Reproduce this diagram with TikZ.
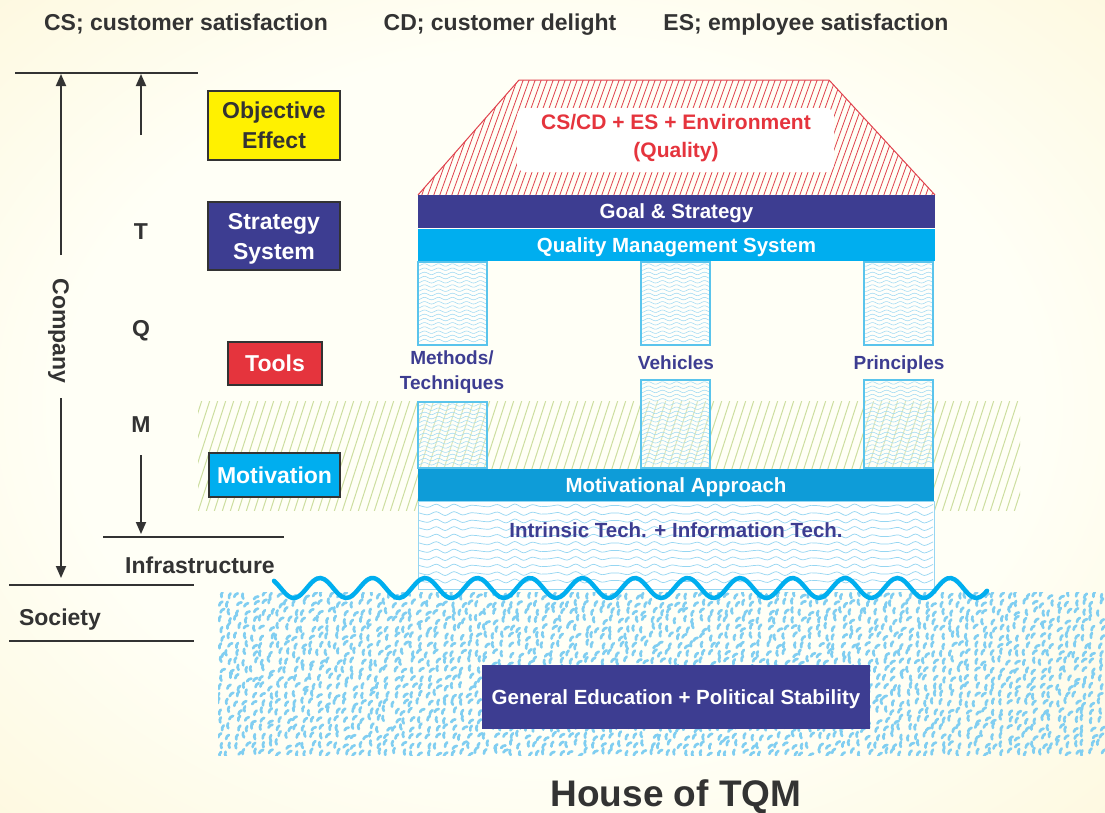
\documentclass[tikz,border=0pt]{standalone}
\usepackage{fontspec}
\setmainfont{Liberation Sans}
\usetikzlibrary{arrows.meta}
\definecolor{bgin}{RGB}{255,255,246}
\definecolor{bgout}{RGB}{252,243,205}
\definecolor{indigo}{RGB}{61,61,145}
\definecolor{cyanq}{RGB}{0,174,239}
\definecolor{cyanm}{RGB}{14,156,216}
\definecolor{yel}{RGB}{255,241,0}
\definecolor{redt}{RGB}{229,52,61}
\definecolor{roofred}{RGB}{224,66,77}
\definecolor{dark}{RGB}{51,51,51}
\definecolor{pillarb}{RGB}{90,196,236}
\definecolor{wavel}{RGB}{150,214,242}
\definecolor{wavep}{RGB}{160,218,243}
\definecolor{greenh}{RGB}{205,222,160}
\definecolor{dashc}{RGB}{128,206,241}
\pgfdeclareradialshading{bgsh}{\pgfpoint{0bp}{0bp}}{color(0bp)=(bgin); color(22bp)=(bgin); color(48bp)=(bgout); color(100bp)=(bgout)}
\newcommand\mywaves[8]{%
  \foreach \yy in {#3,#4,...,#5}{%
    \draw[#8] plot[domain=#1:#2,samples=60,smooth] (\x,{\yy+#7*sin(((\x-400)/#6)*360)});}}
\begin{document}
\begin{tikzpicture}[x=1pt,y=-1pt,
  lbl/.style={font=\fontsize{23}{30}\selectfont\bfseries,text=dark,inner sep=0pt,text height=16.5pt,text depth=0pt},
  lbox/.style={draw=dark,line width=2.2pt,inner sep=0pt,align=center,font=\fontsize{23}{30}\selectfont\bfseries},
  bar/.style={inner sep=0pt,minimum width=517pt,text=white,font=\fontsize{20.5}{24}\selectfont\bfseries,text height=14.7pt,text depth=0pt},
  plbl/.style={inner sep=0pt,align=center,text=indigo,font=\fontsize{19}{25}\selectfont\bfseries},
  pillar/.style={draw=pillarb,line width=1.2pt},
  arr/.style={draw=dark,line width=1.8pt,-{Triangle[length=12pt,width=10pt]}},
  hline/.style={draw=dark,line width=1.5pt}]
\useasboundingbox (0,0) rectangle (1105,812);
% background
\shade[shading=bgsh] (0,0) rectangle (1105,812);
% green hatch band
\begin{scope}
\clip (198,401) rectangle (1020,510);
\foreach \k in {150,158,...,1020}{\draw[greenh,line width=1pt] (\k,512) -- ++(36,-112);}
\end{scope}
% society dashes
\begin{scope}
\clip (218,592) rectangle (1105,755);
\pgfmathsetseed{11}
\foreach \i in {0,...,106}{
  \foreach \j in {0,...,19}{
    \pgfmathsetmacro\px{220+8.3*\i+2.4*rand}
    \pgfmathsetmacro\py{597+8.3*\j+2.4*rand}
    \pgfmathsetmacro\ang{65+35*rand}
    \pgfmathsetmacro\dx{5*cos(\ang)}
    \pgfmathsetmacro\dy{-5*sin(\ang)}
    \draw[dashc,line width=2.7pt,line cap=round] (\px,\py) to[bend left=30] ++(\dx,\dy);
  }}
\end{scope}
% roof
\begin{scope}
\clip (418,195) -- (519,80) -- (829,80) -- (935,195) -- cycle;
\foreach \k in {300,306,...,960}{\draw[roofred,line width=0.8pt] (\k,200) -- ++(45,-125);}
\end{scope}
\fill[white,rounded corners=8pt] (517,108) rectangle (834,172);
\draw[roofred,line width=1pt] (418,195) -- (519,80) -- (829,80) -- (935,195);
\node[inner sep=0pt,align=center,text=redt,font=\fontsize{21}{28}\selectfont\bfseries] (roof) at (676,138.5) {CS/CD + ES + Environment\\(Quality)};
% bars
\node[bar,fill=indigo,minimum height=33pt] (goal) at (676.5,211.5) {Goal \& Strategy};
\node[bar,fill=cyanq,minimum height=32pt] (qms) at (676.5,245) {Quality Management System};
% pillars
\foreach \xa in {418,641,864}{
  \fill[white,opacity=0.6] (\xa,262) rectangle ++(69,83);
  \mywaves{\xa+1}{\xa+68}{265}{269.2}{343}{14}{1.2}{draw=wavep,line width=0.55pt}
  \draw[pillar] (\xa,262) rectangle ++(69,83);
}
\fill[white,opacity=0.3] (418,402) rectangle (487,468);
\mywaves{419}{486}{405}{409.2}{466}{14}{1.2}{draw=wavep,line width=0.55pt}
\draw[pillar] (418,402) rectangle (487,468);
\foreach \xa in {641,864}{
  \fill[white,opacity=0.3] (\xa,380) rectangle ++(69,88);
  \mywaves{\xa+1}{\xa+68}{383}{387.2}{466}{14}{1.2}{draw=wavep,line width=0.55pt}
  \draw[pillar] (\xa,380) rectangle ++(69,88);
}
\node[plbl] (meth) at (452,372) {Methods/\\Techniques};
\node[plbl,text height=13.6pt,text depth=0pt] (veh) at (676,363) {Vehicles};
\node[plbl,text height=13.6pt,text depth=0pt] (prin) at (899,363) {Principles};
% intrinsic box
\fill[white] (418,501) rectangle (934,589);
\mywaves{419}{933}{506}{513.5}{586}{20}{2}{draw=wavel,line width=0.7pt}
\draw[draw=wavel,line width=1pt] (418,501) rectangle (934,589);
\node[bar,fill=cyanm,minimum width=516pt,minimum height=32pt] (mot) at (676,485) {Motivational Approach};
\node[inner sep=0pt,text=indigo,font=\fontsize{20.5}{24}\selectfont\bfseries,text height=14.7pt,text depth=0pt] (intr) at (676,530) {Intrinsic Tech. + Information Tech.};
% big wave
\draw[cyanq,line width=4.5pt,line cap=round] plot[domain=274:987,samples=200,smooth] (\x,{588-10*cos(((\x-320)/52.5)*360)});
% general education
\node[fill=indigo,minimum width=388pt,minimum height=64pt,inner sep=0pt,text=white,font=\fontsize{20.5}{24}\selectfont\bfseries,text height=14.7pt,text depth=0pt] (gen) at (676,697) {General Education + Political Stability};
\node[inner sep=0pt,text=dark,font=\fontsize{37}{40}\selectfont\bfseries,text height=26.5pt,text depth=0pt] (title) at (676,793) {House of TQM};
% top texts
\node[lbl] (cs) at (186,22) {CS; customer satisfaction};
\node[lbl] (cd) at (500,22) {CD; customer delight};
\node[lbl] (es) at (806,22) {ES; employee satisfaction};
% left boxes
\node[lbox,fill=yel,text=dark,minimum width=132pt,minimum height=69pt] (obj) at (274,125.5) {Objective\\Effect};
\node[lbox,fill=indigo,text=white,minimum width=132pt,minimum height=68pt,text depth=0pt] (str) at (274,236) {Strategy\\System};
\node[lbox,fill=redt,text=white,minimum width=94pt,minimum height=43pt] (tools) at (275,363.5) {Tools};
\node[lbox,fill=cyanq,text=white,minimum width=131pt,minimum height=44pt] (motv) at (274.5,475) {Motivation};
% left scale
\coordinate (tl1) at (15,73); \coordinate (tl2) at (198,73);
\draw[hline] (tl1) -- (tl2);
\coordinate (il1) at (103,537); \coordinate (il2) at (284,537);
\draw[hline] (il1) -- (il2);
\coordinate (sl1) at (9,585); \coordinate (sl2) at (194,585);
\draw[hline] (sl1) -- (sl2);
\coordinate (sl3) at (9,641); \coordinate (sl4) at (194,641);
\draw[hline] (sl3) -- (sl4);
\node[lbl,rotate=-90] (company) at (61,331) {Company};
\node[lbl] (T) at (141,231) {T};
\node[lbl] (Q) at (141,328) {Q};
\node[lbl] (M) at (141,424) {M};
\node[lbl] (infra) at (200,565) {Infrastructure};
\node[lbl] (soc) at (60,617) {Society};
\coordinate (cu1) at (61,255); \coordinate (cu2) at (61,74);
\draw[arr] (cu1) -- (cu2);
\coordinate (cd1) at (61,398); \coordinate (cd2) at (61,578);
\draw[arr] (cd1) -- (cd2);
\coordinate (tu1) at (141,135); \coordinate (tu2) at (141,74);
\draw[arr] (tu1) -- (tu2);
\coordinate (md1) at (141,455); \coordinate (md2) at (141,534);
\draw[arr] (md1) -- (md2);
\end{tikzpicture}
\end{document}
